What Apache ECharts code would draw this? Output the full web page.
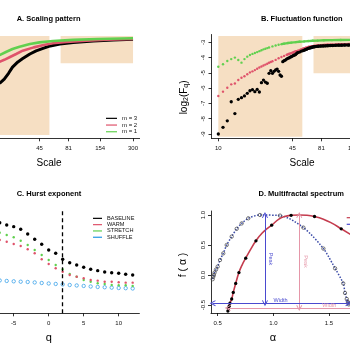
<!DOCTYPE html>
<html>
<head>
<meta charset="utf-8">
<title>MF-DFA panels</title>
<script src="https://cdn.jsdelivr.net/npm/echarts@6.0.0/dist/echarts.min.js"></script>
<style>
  html, body { margin: 0; padding: 0; background: #fff; }
  #chart { width: 350px; height: 350px; }
</style>
</head>
<body>
<div id="chart"></div>
<script>
// ---- A. scaling pattern (scale in points, log2 F) ----
const aScaleM3 = [20, 22, 24, 26, 29, 32, 37, 42, 49, 56, 68, 89, 134, 201, 300];
const aValM3 = [-4.35, -4.15, -3.87, -3.57, -3.32, -3.16, -2.94, -2.79, -2.66, -2.55, -2.46, -2.39, -2.31, -2.26, -2.23];
const aScaleM2 = [20, 22, 25, 28, 32, 40, 49, 59, 78, 116, 174, 300];
const aValM2 = [-3.31, -3.22, -3.07, -2.94, -2.78, -2.62, -2.51, -2.42, -2.36, -2.30, -2.25, -2.22];
const aScaleM1 = [20, 23, 26, 30, 37, 45, 59, 89, 147, 300];
const aValM1 = [-2.99, -2.83, -2.70, -2.59, -2.46, -2.38, -2.31, -2.26, -2.22, -2.18];

// ---- B. fluctuation function ----
const bScaleM3 = [10, 11, 12, 13, 14, 15, 16, 17, 18, 19, 20, 21, 22, 23, 24, 25, 26, 27, 28, 29, 30,
  31, 32, 33, 34, 35, 36, 37, 38, 39, 40, 41, 42, 43, 44, 45, 46, 47, 48, 49, 50,
  52, 54, 56, 58, 60, 62, 64, 66, 68, 70, 73, 76, 80, 84, 88, 92, 97, 102, 108, 115,
  122, 130, 140, 150, 160, 175, 190, 210, 230, 250, 275, 300];
const bValM3 = [-9.00, -8.56, -8.14, -6.89, -7.66, -6.73, -6.62, -6.51, -6.34, -6.17, -6.10, -6.23, -6.08, -6.25, -5.64, -5.47, -5.60, -5.68, -5.03, -4.86, -5.03,
  -4.90, -4.81, -4.75, -4.90, -5.14, -5.22, -4.27, -4.20, -4.16, -4.10, -4.05, -4.02, -3.97, -3.94, -3.90, -3.86, -3.83, -3.80, -3.73, -3.68,
  -3.64, -3.58, -3.54, -3.49, -3.45, -3.40, -3.37, -3.34, -3.31, -3.29, -3.27, -3.26, -3.25, -3.24, -3.23, -3.22, -3.21, -3.21, -3.20, -3.19,
  -3.19, -3.18, -3.18, -3.17, -3.16, -3.16, -3.15, -3.14, -3.14, -3.13, -3.13, -3.12];
const bScaleM2 = [10, 11, 12, 13, 14, 15, 16, 17, 18, 19, 20, 21, 22, 23, 24, 25, 26, 27, 28, 29, 30,
  32, 34, 36, 38, 40, 42, 44, 46, 48, 50, 53, 56, 59, 62, 66, 70, 75, 80, 86, 92,
  100, 110, 120, 135, 150, 170, 200, 240, 300];
const bValM2 = [-6.51, -6.23, -5.97, -5.75, -5.70, -5.47, -5.32, -5.22, -5.09, -4.97, -4.90, -4.82, -4.73, -4.65, -4.58, -4.52, -4.46, -4.40, -4.34, -4.29, -4.24,
  -4.15, -4.04, -3.96, -3.89, -3.82, -3.76, -3.71, -3.65, -3.60, -3.56, -3.49, -3.42, -3.36, -3.31, -3.27, -3.24, -3.21, -3.19, -3.17, -3.16,
  -3.15, -3.14, -3.13, -3.12, -3.11, -3.10, -3.09, -3.08, -3.07];
const bScaleM1 = [10, 11, 12, 13, 14, 15, 16, 17, 18, 19, 20, 21, 22, 23, 24, 25, 26, 27, 28,
  30, 32, 34, 36, 38, 41, 44, 48, 52, 57, 62, 68, 75, 85, 100, 120, 150, 200, 300];
const bValM1 = [-4.60, -4.44, -4.22, -4.10, -4.00, -4.16, -4.33, -4.10, -3.94, -3.83, -3.76, -3.70, -3.64, -3.58, -3.52, -3.46, -3.42, -3.38, -3.34,
  -3.27, -3.21, -3.16, -3.12, -3.09, -3.05, -3.02, -2.99, -2.96, -2.94, -2.92, -2.90, -2.89, -2.87, -2.86, -2.85, -2.84, -2.83, -2.82];
const scaleTicks = [10, 45, 81, 154, 300];
const shadeWindows = [[10, 55], [69, 300]];

// ---- C. generalised Hurst exponent h(q) ----
const cQ = [-7, -6, -5, -4, -3, -2, -1, 0, 1, 2, 3, 4, 5, 6, 7, 8, 9, 10, 11, 12];
const cBaseline = [1.360, 1.336, 1.318, 1.290, 1.240, 1.184, 1.131, 1.071, 1.036, 0.972, 0.936, 0.912, 0.888, 0.867, 0.852, 0.838, 0.830, 0.824, 0.814, 0.806];
const cWarm = [1.177, 1.159, 1.135, 1.113, 1.078, 1.036, 0.972, 0.923, 0.877, 0.841, 0.806, 0.788, 0.771, 0.753, 0.746, 0.735, 0.735, 0.729, 0.725, 0.725];
const cStretch = [1.254, 1.230, 1.206, 1.169, 1.124, 1.071, 1.018, 0.965, 0.912, 0.867, 0.817, 0.788, 0.753, 0.735, 0.718, 0.711, 0.700, 0.697, 0.697, 0.690];
const cShuffle = [0.748, 0.743, 0.739, 0.735, 0.732, 0.727, 0.721, 0.716, 0.711, 0.706, 0.700, 0.695, 0.690, 0.684, 0.679, 0.676, 0.672, 0.668, 0.666, 0.663];
const qTicks = [-10, -5, 0, 5, 10];
const qRef = 2;

// ---- D. multifractal spectrum f(alpha) ----
const dAlphaObs = [0.592, 0.597, 0.603, 0.610, 0.626, 0.640, 0.662, 0.691, 0.752, 0.844, 0.985, 1.160, 1.370, 1.610];
const dFObs = [-0.60, -0.56, -0.52, -0.47, -0.40, -0.29, -0.14, 0.04, 0.28, 0.57, 0.83, 0.995, 0.975, 0.77];
const dAlphaFit = [0.590, 0.600, 0.610, 0.626, 0.640, 0.662, 0.691, 0.720, 0.752, 0.800, 0.844, 0.900, 0.950, 0.985,
  1.050, 1.100, 1.160, 1.233, 1.300, 1.370, 1.450, 1.530, 1.610, 1.700];
const dFFit = [-0.61, -0.54, -0.47, -0.40, -0.29, -0.14, 0.04, 0.17, 0.28, 0.44, 0.57, 0.70, 0.78, 0.83,
  0.93, 0.975, 0.995, 1.0, 0.995, 0.975, 0.93, 0.86, 0.77, 0.67];
const dAlphaShuf = [0.455, 0.460, 0.466, 0.472, 0.485, 0.500, 0.521, 0.550, 0.581, 0.626, 0.671, 0.716, 0.775, 0.880,
  1.060, 1.270, 1.450, 1.555, 1.628, 1.644, 1.660, 1.670, 1.675, 1.678];
const dFShuf = [-0.07, -0.03, 0.00, 0.04, 0.09, 0.14, 0.25, 0.36, 0.50, 0.64, 0.77, 0.86, 0.945, 1.00,
  0.99, 0.79, 0.44, 0.11, -0.14, -0.30, -0.40, -0.45, -0.47, -0.49];
// peak position and width range of each spectrum
const dPeakAlpha = [0.925, 1.233];
const dWidthRange = [[0.455, 1.675], [0.59, 2.416]];
const dWidthLevel = [-0.47, -0.55];
const alphaTicks = [0.5, 1.0, 1.5, 2.0];
const fTicks = [-0.5, 0, 0.5, 1.0];

const FONT = '"Liberation Sans", Arial, Helvetica, sans-serif';
const INK = '#000';
const RED = '#DF536B', GREEN = '#61D04F', BLUE = '#2297E6';
const FIT_RED = '#C43C4E', SHUF_BLUE = '#3B4BA8';
const ARROW_BLUE = '#4A4ACF', ARROW_PINK = '#E596A8';
const SHADE = '#F6DFC3';
const HOLLOW = 'rgba(255,255,255,0)';
const CHEVRON = 'path://M0,9 L5,0 L10,9 L8.6,9.6 L5,3 L1.4,9.6 Z';

const lg = Math.log10;
const pairs = (xs, ys, fx) => xs.map((x, i) => [fx ? fx(x) : x, ys[i]]);
const tail = (xs, ys, from) => pairs(xs, ys, lg).filter((p, i) => xs[i] >= from);

function rAxis(o) {
  return {
    gridIndex: o.grid, type: 'value', min: o.min, max: o.max, show: o.show !== false,
    axisLine: { show: true, onZero: false, lineStyle: { color: INK, width: 0.8 } },
    axisTick: { show: true, length: 3, customValues: o.ticks, lineStyle: { color: INK, width: 0.8 } },
    axisLabel: {
      show: true, customValues: o.ticks, formatter: o.fmt, fontSize: 6, color: '#111',
      fontFamily: FONT, margin: o.margin, rotate: o.rotate || 0
    },
    splitLine: { show: false },
    name: o.name, nameLocation: 'middle', nameGap: o.nameGap, nameRotate: o.nameRotate,
    nameMoveOverlap: false,
    nameTextStyle: Object.assign({ fontSize: 10, color: INK, fontFamily: FONT }, o.nameStyle || {})
  };
}

const logFmt = v => String(Math.round(Math.pow(10, v)));
const scaleTickPos = scaleTicks.map(lg);

function shade(yLow, yTop, yLow2) {
  return {
    silent: true,
    itemStyle: { color: SHADE, opacity: 1, borderWidth: 0 },
    label: { show: false },
    data: [
      [{ xAxis: lg(shadeWindows[0][0]), yAxis: yLow }, { xAxis: lg(shadeWindows[0][1]), yAxis: yTop }],
      [{ xAxis: lg(shadeWindows[1][0]), yAxis: yLow2 }, { xAxis: lg(shadeWindows[1][1]), yAxis: yTop }]
    ]
  };
}

function arrow(x1, y1, x2, y2, color, text) {
  return [
    {
      coord: [x1, y1],
      lineStyle: { color: color, width: 1, type: 'solid' },
      label: { show: true, position: 'middle', formatter: text, color: color, fontSize: 5.5, fontFamily: FONT, distance: y1 === y2 ? 0 : 3 }
    },
    { coord: [x2, y2] }
  ];
}

const titleStyle = { fontSize: 7.5, fontWeight: 'bold', color: INK, fontFamily: FONT, lineHeight: 9 };
const legendText = (size, lh) => ({ fontSize: size, lineHeight: lh, color: '#111', fontFamily: FONT });
const legendItem = (name, color) => ({ name: name, itemStyle: { color: color, borderWidth: 0, opacity: 1 } });
const dot = (color, size, z, extra) => Object.assign({
  type: 'scatter', symbolSize: size, itemStyle: { color: color, opacity: 1 }, z: z
}, extra || {});

const chart = echarts.init(document.getElementById('chart'), null, { renderer: 'canvas' });

chart.setOption({
  animation: false,
  backgroundColor: '#fff',
  title: [
    { text: 'A. Scaling pattern', left: 16.7, top: 14, padding: 0, textStyle: titleStyle },
    { text: 'B. Fluctuation function', left: 261, top: 14, padding: 0, textStyle: titleStyle },
    { text: 'C. Hurst exponent', left: 16.7, top: 189, padding: 0, textStyle: titleStyle },
    { text: 'D. Multifractal spectrum', left: 258.5, top: 189, padding: 0, textStyle: titleStyle }
  ],
  legend: [
    {
      data: [legendItem('m = 3', INK), legendItem('m = 2', RED), legendItem('m = 1', GREEN)],
      left: 106, top: 115, orient: 'vertical', icon: 'rect',
      itemWidth: 11, itemHeight: 1.2, itemGap: 0, padding: 0, selectedMode: false, textStyle: legendText(6, 6.7)
    },
    {
      data: [legendItem('BASELINE', INK), legendItem('WARM', RED), legendItem('STRETCH', GREEN), legendItem('SHUFFLE', BLUE)],
      left: 93, top: 215.2, orient: 'vertical', icon: 'rect',
      itemWidth: 9, itemHeight: 1.2, itemGap: 0, padding: 0, selectedMode: false, textStyle: legendText(5.6, 6.3)
    },
    {
      data: [legendItem('Original', FIT_RED), legendItem('Shuffled', ARROW_BLUE)],
      left: 346.7, top: 214.4, orient: 'vertical', icon: 'rect',
      itemWidth: 11, itemHeight: 1.2, itemGap: 0, padding: 0, selectedMode: false, textStyle: legendText(6, 6.6)
    }
  ],
  grid: [
    { left: -41.4, top: 34.5, width: 181, height: 103.8, outerBoundsMode: 'none', containLabel: false },
    { left: 211.5, top: 34.5, width: 181, height: 103.8, outerBoundsMode: 'none', containLabel: false },
    { left: -42, top: 209.5, width: 181.4, height: 103.8, outerBoundsMode: 'none', containLabel: false },
    { left: 211, top: 211, width: 223.7, height: 102, outerBoundsMode: 'none', containLabel: false }
  ],
  xAxis: [
    rAxis({ grid: 0, min: 0.94, max: 2.535, ticks: scaleTickPos, fmt: logFmt, margin: 7, name: 'Scale', nameGap: 20 }),
    rAxis({ grid: 1, min: 0.94, max: 2.535, ticks: scaleTickPos, fmt: logFmt, margin: 7, name: 'Scale', nameGap: 20 }),
    rAxis({ grid: 2, min: -12.96, max: 12.96, ticks: qTicks, fmt: v => String(v), margin: 7, name: 'q', nameGap: 19, nameStyle: { fontSize: 11 } }),
    rAxis({
      grid: 3, min: 0.44, max: 2.45, ticks: alphaTicks, fmt: v => v.toFixed(1), margin: 7, name: 'α', nameGap: 19,
      nameStyle: { fontSize: 11, padding: [0, 100, 0, 0] }
    })
  ],
  yAxis: [
    { gridIndex: 0, type: 'value', min: -7, max: -2, show: false },
    rAxis({
      grid: 1, min: -9.28, max: -2.49, ticks: [-9, -8, -7, -6, -5, -4, -3], fmt: v => String(Math.round(v)),
      rotate: 90, margin: 5, name: 'log{s|2}(F{s|q})', nameGap: 22, nameRotate: 90,
      nameStyle: {
        padding: [0, 22, 0, 0],
        rich: { s: { fontSize: 7, verticalAlign: 'bottom', fontFamily: FONT, color: INK } }
      }
    }),
    { gridIndex: 2, type: 'value', min: 0.4, max: 1.5, show: false },
    rAxis({
      grid: 3, min: -0.6333, max: 1.0667, ticks: fTicks, fmt: v => v.toFixed(1),
      rotate: 90, margin: 5, name: 'f ( α )', nameGap: 22, nameRotate: 90,
      nameStyle: { fontSize: 10.5, padding: [0, 6, 0, 0] }
    })
  ],
  series: [
    // A
    {
      type: 'line', name: 'm = 3', xAxisIndex: 0, yAxisIndex: 0, data: pairs(aScaleM3, aValM3, lg),
      showSymbol: false, lineStyle: { color: INK, width: 3 }, itemStyle: { color: INK }, z: 2,
      markArea: shade(-6.84, -2.07, -3.39)
    },
    {
      type: 'line', name: 'm = 2', xAxisIndex: 0, yAxisIndex: 0, data: pairs(aScaleM2, aValM2, lg),
      showSymbol: false, lineStyle: { color: RED, width: 2.6 }, itemStyle: { color: RED }, z: 3
    },
    {
      type: 'line', name: 'm = 1', xAxisIndex: 0, yAxisIndex: 0, data: pairs(aScaleM1, aValM1, lg),
      showSymbol: false, lineStyle: { color: GREEN, width: 2.6 }, itemStyle: { color: GREEN }, z: 4
    },
    // B
    dot(INK, 3.3, 4, {
      name: 'F m3', xAxisIndex: 1, yAxisIndex: 1, data: pairs(bScaleM3, bValM3, lg),
      markArea: shade(-9.18, -2.59, -5.03)
    }),
    {
      type: 'line', name: 'F m3 tail', xAxisIndex: 1, yAxisIndex: 1, data: tail(bScaleM3, bValM3, 56),
      showSymbol: false, lineStyle: { color: INK, width: 3 }, z: 4
    },
    dot(RED, 2.4, 3, { name: 'F m2', xAxisIndex: 1, yAxisIndex: 1, data: pairs(bScaleM2, bValM2, lg) }),
    {
      type: 'line', name: 'F m2 tail', xAxisIndex: 1, yAxisIndex: 1, data: tail(bScaleM2, bValM2, 40),
      showSymbol: false, lineStyle: { color: RED, width: 2.4 }, z: 3
    },
    dot(GREEN, 2.4, 2, { name: 'F m1', xAxisIndex: 1, yAxisIndex: 1, data: pairs(bScaleM1, bValM1, lg) }),
    {
      type: 'line', name: 'F m1 tail', xAxisIndex: 1, yAxisIndex: 1, data: tail(bScaleM1, bValM1, 36),
      showSymbol: false, lineStyle: { color: GREEN, width: 2.4 }, z: 2
    },
    // C
    dot(INK, 3.4, 5, {
      name: 'BASELINE', xAxisIndex: 2, yAxisIndex: 2, data: pairs(cQ, cBaseline),
      markLine: {
        silent: true, symbol: 'none', label: { show: false },
        lineStyle: { color: INK, type: [4, 3], width: 1.3 },
        data: [{ xAxis: qRef }]
      }
    }),
    dot(RED, 2.4, 4, { name: 'WARM', xAxisIndex: 2, yAxisIndex: 2, data: pairs(cQ, cWarm) }),
    dot(GREEN, 2.4, 3, { name: 'STRETCH', xAxisIndex: 2, yAxisIndex: 2, data: pairs(cQ, cStretch) }),
    dot(HOLLOW, 3.4, 2, {
      name: 'SHUFFLE', xAxisIndex: 2, yAxisIndex: 2, data: pairs(cQ, cShuffle),
      itemStyle: { color: HOLLOW, borderColor: BLUE, borderWidth: 0.7, opacity: 1 }
    }),
    // D
    {
      type: 'line', name: 'Shuffled', xAxisIndex: 3, yAxisIndex: 3, data: pairs(dAlphaShuf, dFShuf),
      smooth: 0.3, symbol: 'circle', symbolSize: 3.4, showSymbol: true,
      itemStyle: { color: HOLLOW, borderColor: '#444', borderWidth: 0.7 },
      lineStyle: { color: SHUF_BLUE, width: 1.5, type: 'dotted' }, z: 2
    },
    {
      type: 'line', name: 'Original', xAxisIndex: 3, yAxisIndex: 3, data: pairs(dAlphaFit, dFFit),
      smooth: true, showSymbol: false, clip: false,
      lineStyle: { color: FIT_RED, width: 1.6 }, itemStyle: { color: FIT_RED }, z: 3,
      markLine: {
        silent: true, symbol: [CHEVRON, CHEVRON], symbolSize: [6, 6],
        data: [
          arrow(dPeakAlpha[0], 1.0, dPeakAlpha[0], dWidthLevel[0], ARROW_BLUE, 'Peak'),
          arrow(dPeakAlpha[1], 1.0, dPeakAlpha[1], dWidthLevel[1], ARROW_PINK, 'Peak'),
          arrow(dWidthRange[0][0], dWidthLevel[0], dWidthRange[0][1], dWidthLevel[0], ARROW_BLUE, 'Width'),
          arrow(dWidthRange[1][0], dWidthLevel[1], dWidthRange[1][1], dWidthLevel[1], ARROW_PINK, 'Width')
        ]
      }
    },
    dot(INK, 3.3, 4, { name: 'Original points', xAxisIndex: 3, yAxisIndex: 3, data: pairs(dAlphaObs, dFObs) })
  ]
});
</script>
</body>
</html>
